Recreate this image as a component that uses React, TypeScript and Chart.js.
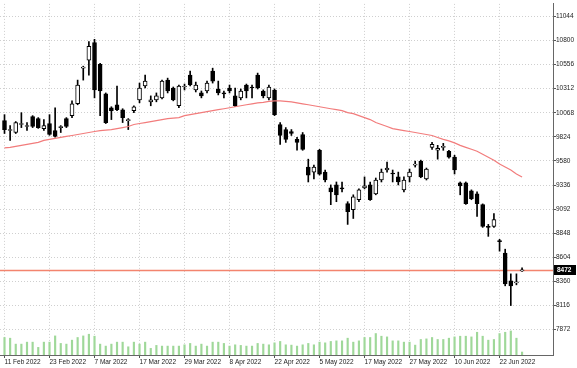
import React, { useEffect, useRef } from "react";
import { Chart, registerables } from "chart.js";

Chart.register(...registerables);

// ---- data (daily bars, index 0 = 11 Feb 2022) ----
const open = [
  9989, 9888, 9868, 9949, 9929, 10029, 10009, 9908, 9959, 9888,
  9918, 10009, 10039, 10159, 10520, 10600, 10780, 10560, 10259, 10119,
  10149, 10099, 9989, 10089, 10199, 10339, 10179, 10199, 10219, 10399,
  10319, 10139, 10329, 10450, 10299, 10269, 10289, 10490, 10309, 10269,
  10319, 10239, 10219, 10349, 10329, 10450, 10289, 10219, 10299, 9949,
  9898, 9878, 9798, 9848, 9518, 9467, 9688, 9467, 9307, 9337,
  9307, 9147, 9087, 9187, 9307, 9337, 9247, 9387, 9488, 9458,
  9418, 9287, 9418, 9538, 9578, 9397, 9718, 9688, 9718, 9678,
  9618, 9357, 9357, 9277, 9247, 9137, 8917, 8917, 8770, 8646,
  8365, 8345, 8466,
];
const high = [
  10049, 9938, 9979, 10069, 9969, 10039, 10019, 9999, 10049, 10119,
  9938, 10019, 10189, 10399, 10540, 10790, 10812, 10570, 10269, 10129,
  10339, 10109, 10009, 10139, 10369, 10450, 10239, 10269, 10399, 10419,
  10329, 10349, 10359, 10490, 10379, 10289, 10389, 10520, 10389, 10289,
  10349, 10319, 10309, 10359, 10349, 10470, 10300, 10349, 10309, 9969,
  9918, 9898, 9818, 9868, 9598, 9538, 9698, 9488, 9337, 9367,
  9367, 9167, 9237, 9297, 9418, 9367, 9407, 9498, 9568, 9488,
  9467, 9418, 9498, 9578, 9588, 9508, 9768, 9738, 9758, 9688,
  9638, 9367, 9367, 9287, 9267, 9145, 8937, 9047, 8786, 8686,
  8436, 8436, 8496,
];
const low = [
  9858, 9788, 9858, 9918, 9888, 9918, 9910, 9888, 9840, 9820,
  9868, 9918, 10019, 10149, 10399, 10450, 10219, 10039, 9959, 9999,
  10089, 9969, 9898, 10069, 10169, 10319, 10139, 10179, 10209, 10269,
  10189, 10119, 10299, 10339, 10279, 10219, 10269, 10369, 10249, 10219,
  10269, 10129, 10199, 10219, 10219, 10309, 10219, 10199, 10039, 9748,
  9768, 9838, 9688, 9688, 9367, 9397, 9437, 9367, 9137, 9167,
  9267, 8937, 8997, 9167, 9297, 9180, 9237, 9367, 9467, 9367,
  9337, 9267, 9367, 9518, 9410, 9387, 9698, 9598, 9688, 9608,
  9448, 9237, 9140, 9187, 9017, 8907, 8816, 8907, 8666, 8315,
  8115, 8325, 8460,
];
const close = [
  9898, 9898, 9969, 9959, 9938, 9929, 9918, 9938, 9848, 9828,
  9929, 9929, 10159, 10349, 10530, 10740, 10299, 10289, 9969, 10089,
  10099, 10019, 9995, 10129, 10319, 10389, 10199, 10239, 10389, 10289,
  10199, 10339, 10339, 10349, 10349, 10239, 10369, 10389, 10269, 10259,
  10289, 10139, 10289, 10289, 10319, 10319, 10239, 10329, 10049, 9838,
  9798, 9858, 9768, 9698, 9437, 9518, 9447, 9387, 9267, 9237,
  9297, 9067, 9217, 9287, 9327, 9187, 9387, 9467, 9508, 9448,
  9367, 9387, 9467, 9548, 9418, 9498, 9748, 9708, 9728, 9618,
  9488, 9327, 9147, 9197, 9147, 8917, 8907, 8987, 8762, 8335,
  8315, 8355, 8472,
];
const movingAverage = [
  9713, 9718, 9728, 9738, 9748, 9758, 9768, 9788, 9798, 9808,
  9818, 9828, 9838, 9848, 9858, 9868, 9878, 9888, 9893, 9898,
  9908, 9918, 9929, 9949, 9959, 9969, 9979, 9989, 9999, 10009,
  10014, 10019, 10039, 10049, 10059, 10069, 10079, 10089, 10099, 10109,
  10119, 10129, 10139, 10149, 10159, 10169, 10174, 10184, 10189, 10189,
  10184, 10179, 10169, 10159, 10149, 10139, 10129, 10119, 10109, 10099,
  10089, 10069, 10059, 10039, 10019, 9999, 9969, 9949, 9929, 9908,
  9898, 9888, 9878, 9868, 9858, 9848, 9838, 9818, 9798, 9783,
  9763, 9738, 9718, 9698, 9678, 9648, 9618, 9588, 9548, 9518,
  9488, 9448, 9418,
];
const volume = [
  17700, 17000, 11000, 11000, 13000, 13000, 7700, 13000, 13000, 19300,
  11700, 11000, 15000, 17700, 19300, 21000, 19000, 11000, 9000, 11000,
  13000, 13000, 8300, 13000, 11000, 13000, 6700, 9700, 9000, 9000,
  9000, 9000, 10300, 11700, 9000, 11000, 9000, 13000, 13000, 11700,
  9000, 10300, 9700, 9000, 9000, 11700, 11000, 10300, 12300, 13700,
  10300, 10000, 9000, 10300, 11700, 10300, 13000, 12300, 13700, 14300,
  14300, 17000, 13000, 14300, 17700, 17700, 21700, 19000, 18300, 14300,
  14300, 13000, 13000, 10000, 15700, 16300, 17700, 15700, 15700, 17000,
  18300, 19000, 19000, 18300, 23000, 19000, 15000, 15700, 21700, 23000,
  24300, 17000, 3000,
];
const yTickValues = [7872, 8116, 8360, 8604, 8848, 9092, 9336, 9580, 9824, 10068, 10312, 10556, 10800, 11044];
const xTickIndex = [0, 8, 16, 24, 32, 40, 48, 56, 64, 72, 80, 88];
const xTickLabels = [
  "11 Feb 2022", "23 Feb 2022", "7 Mar 2022", "17 Mar 2022", "29 Mar 2022", "8 Apr 2022",
  "22 Apr 2022", "5 May 2022", "17 May 2022", "27 May 2022", "10 Jun 2022", "22 Jun 2022",
];

const FONT = "'Liberation Sans', Arial, sans-serif";

const priceLinePlugin = {
  id: "priceLine",
  beforeDatasetsDraw(chart: any) {
    const ctx = chart.ctx;
    const last = close[close.length - 1];
    const y = Math.round(chart.scales.y.getPixelForValue(last)) + 0.5;
    const { left, right } = chart.chartArea;
    ctx.save();
    ctx.strokeStyle = "#f3846e";
    ctx.lineWidth = 1.5;
    ctx.beginPath();
    ctx.moveTo(left, y);
    ctx.lineTo(right, y);
    ctx.stroke();
    ctx.restore();
  },
  afterDraw(chart: any) {
    const ctx = chart.ctx;
    const last = close[close.length - 1];
    const y = Math.round(chart.scales.y.getPixelForValue(last));
    const { right } = chart.chartArea;
    ctx.save();
    ctx.fillStyle = "#000";
    ctx.fillRect(right + 1, y - 5, 22, 10);
    ctx.fillStyle = "#fff";
    ctx.font = "bold 6.5px " + FONT;
    ctx.textBaseline = "middle";
    ctx.textAlign = "left";
    ctx.fillText(String(last), right + 4, y + 0.5);
    ctx.restore();
  },
};

export default function App() {
  const ref = useRef<HTMLCanvasElement | null>(null);

  useEffect(() => {
    document.body.style.margin = "0";
    const canvas = ref.current;
    if (!canvas) return;
    const idx = open.map((_, i) => i);

    const chart = new Chart(canvas, {
      type: "bar",
      data: {
        datasets: [
          {
            type: "line",
            data: idx.map((i) => ({ x: i, y: movingAverage[i] })),
            borderColor: "#f27c7c",
            borderWidth: 1.2,
            pointRadius: 0,
            tension: 0,
            yAxisID: "y",
            order: 1,
          } as any,
          {
            type: "bar",
            data: idx.map((i) => ({ x: i, y: [open[i], close[i]] })),
            backgroundColor: idx.map((i) => (close[i] >= open[i] ? "#ffffff" : "#000000")),
            borderColor: "#000000",
            borderWidth: 1,
            borderSkipped: false,
            barThickness: 4,
            minBarLength: 1,
            grouped: false,
            yAxisID: "y",
            order: 2,
          } as any,
          {
            type: "bar",
            data: idx.map((i) => ({ x: i, y: [low[i], high[i]] })),
            backgroundColor: "#000000",
            borderWidth: 0,
            barThickness: 1,
            grouped: false,
            yAxisID: "y",
            order: 3,
          } as any,
          {
            type: "bar",
            data: idx.map((i) => ({ x: i, y: volume[i] })),
            backgroundColor: "#9fd899",
            borderWidth: 0,
            barThickness: 1.5,
            grouped: false,
            yAxisID: "yv",
            order: 5,
          } as any,
        ],
      },
      options: {
        animation: false,
        responsive: false,
        maintainAspectRatio: false,
        layout: { padding: 0 },
        plugins: { legend: { display: false }, tooltip: { enabled: false } },
        scales: {
          x: {
            type: "linear",
            min: -0.8,
            max: 97.5,
            offset: false,
            afterBuildTicks: (s: any) => {
              s.ticks = xTickIndex.map((v) => ({ value: v }));
            },
            afterFit: (s: any) => {
              s.height = 13;
            },
            ticks: {
              autoSkip: false,
              maxRotation: 0,
              align: "start",
              padding: 0,
              color: "#222",
              font: { size: 6.5, family: FONT },
              callback: (v: any) => {
                const k = xTickIndex.indexOf(Number(v));
                return k >= 0 ? xTickLabels[k] : "";
              },
            },
            grid: {
              color: "#cfcfcf",
              offset: false,
              tickLength: 3,
              tickColor: "#555",
            },
            border: { display: true, color: "#666", width: 1, dash: [1, 2] },
          },
          y: {
            type: "linear",
            position: "right",
            min: 7614,
            max: 11171,
            afterBuildTicks: (s: any) => {
              s.ticks = yTickValues.map((v) => ({ value: v }));
            },
            afterFit: (s: any) => {
              s.width = 24;
            },
            ticks: {
              padding: 0,
              color: "#222",
              font: { size: 6.5, family: FONT },
              callback: (v: any) => String(v),
            },
            grid: {
              color: "#cfcfcf",
              tickLength: 3,
              tickColor: "#555",
            },
            border: { display: true, color: "#666", width: 1, dash: [1, 2] },
          },
          yv: {
            type: "linear",
            display: false,
            min: 0,
            max: 355000,
          },
        },
      } as any,
      plugins: [priceLinePlugin],
    });
    return () => chart.destroy();
  }, []);

  return (
    <div style={{ width: 577, height: 368, background: "#fff" }}>
      <canvas ref={ref} width={577} height={368} style={{ display: "block", width: 577, height: 368 }} />
    </div>
  );
}
